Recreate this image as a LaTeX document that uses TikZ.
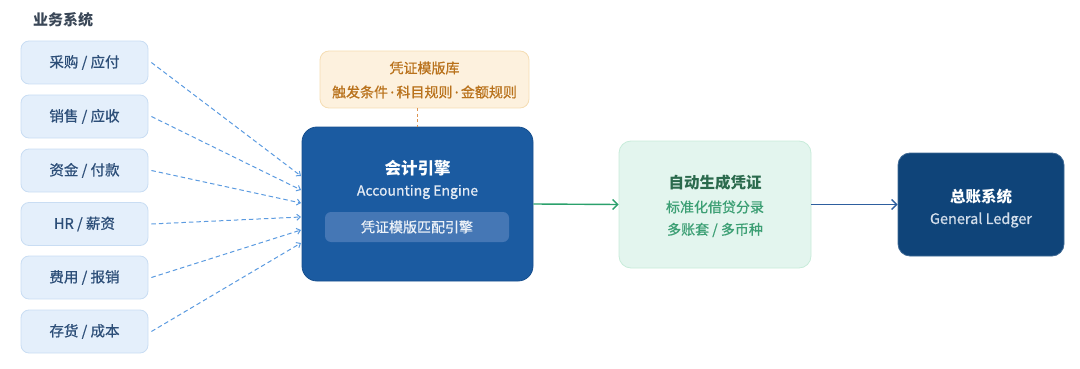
\documentclass[tikz,border=0pt]{standalone}
\usepackage{fontspec}
\setmainfont{Noto Sans CJK SC}
\newfontfamily\med{Noto Sans CJK SC}[FakeBold=0.7]
\newfontfamily\latdot{Noto Sans}[FakeBold=0.7]
\usetikzlibrary{arrows.meta,calc}
\definecolor{srcfill}{HTML}{E4EFFB}
\definecolor{srcdraw}{HTML}{C9DDF3}
\definecolor{srctext}{HTML}{2C4E78}
\definecolor{dashc}{HTML}{5C9BE0}
\definecolor{engfill}{HTML}{1B5BA1}
\definecolor{enginner}{HTML}{4577B5}
\definecolor{engdraw}{HTML}{174F8E}
\definecolor{tplfill}{HTML}{FDF1DE}
\definecolor{tpldraw}{HTML}{F5DDB3}
\definecolor{tpltext}{HTML}{B9721C}
\definecolor{tpldot}{HTML}{DD9450}
\definecolor{genfill}{HTML}{E3F5EE}
\definecolor{gendraw}{HTML}{C8ECDA}
\definecolor{gentitle}{HTML}{2B6A4D}
\definecolor{gentext}{HTML}{3C9F74}
\definecolor{greenarr}{HTML}{2BA16C}
\definecolor{glfill}{HTML}{0F4479}
\definecolor{gltext}{HTML}{D3DEEB}
\definecolor{bluearr}{HTML}{2E5F9F}
\definecolor{titlec}{HTML}{3A4757}
\newcommand{\fs}[1]{\fontsize{#1}{#1}\selectfont}
\newcommand{\mdot}{{\latdot\,·\,}}
\begin{document}
\begin{tikzpicture}[x=1pt,y=-1pt,
  srcbox/.style={draw=srcdraw, line width=0.8pt, fill=srcfill, rounded corners=8pt,
    minimum width=127pt, minimum height=43pt, inner sep=0pt, text=srctext, font=\fs{14.5}\med},
  dasharrow/.style={draw=dashc, line width=1pt, dash pattern=on 4.5pt off 3pt,
    -{Straight Barb[length=3.5pt,width=6pt]}},
  solidarrow/.style={line width=1.4pt, -{Straight Barb[length=5pt,width=10pt]}},
  txt/.style={inner sep=0pt, anchor=center}
]
\useasboundingbox (0,0) rectangle (1080,369);

% title
\node[txt, anchor=west, text=titlec, font=\fs{15}\bfseries] (title) at (33,20) {业务系统};

% source boxes
\node[srcbox] (s1) at (84.5,62.5) {采购 / 应付};
\node[srcbox] (s2) at (84.5,116.5) {销售 / 应收};
\node[srcbox] (s3) at (84.5,170.5) {资金 / 付款};
\node[srcbox] (s4) at (84.5,224) {HR / 薪资};
\node[srcbox] (s5) at (84.5,277.5) {费用 / 报销};
\node[srcbox] (s6) at (84.5,331.5) {存货 / 成本};

% template library
\node[draw=tpldraw, line width=0.8pt, fill=tplfill, rounded corners=9pt,
  minimum width=209pt, minimum height=57pt, inner sep=0pt] (tpl) at (424.5,79.5) {};
\node[txt, text=tpltext, font=\fs{14}\med] (tplt) at (424.5,68) {凭证模版库};
\node[txt, text=tpltext, font=\fs{14}\med] (tpls) at (424.5,92) {触发条件\mdot 科目规则\mdot 金额规则};

% accounting engine
\node[draw=engdraw, line width=0.8pt, fill=engfill, rounded corners=15pt,
  minimum width=231pt, minimum height=154pt, inner sep=0pt] (eng) at (417.5,204) {};
\node[txt, text=white, font=\fs{16.5}\bfseries] (engt) at (417.5,168) {会计引擎};
\node[txt, text=white!88!engfill, font=\fs{14}\med] (engs) at (417.5,192) {Accounting Engine};
\node[fill=enginner, rounded corners=6pt, minimum width=184pt, minimum height=30pt,
  inner sep=0pt, text=white!92!engfill, font=\fs{14}\med] (engi) at (417,227) {凭证模版匹配引擎};

% dotted link template -> engine
\draw[draw=tpldot, line width=1.6pt, dash pattern=on 3pt off 2.5pt] (eng.north |- tpl.south) -- (eng.north);

% generated voucher
\node[draw=gendraw, line width=0.8pt, fill=genfill, rounded corners=12pt,
  minimum width=192pt, minimum height=127pt, inner sep=0pt] (gen) at (715,204.5) {};
\node[txt, text=gentitle, font=\fs{15.5}\bfseries] (gent) at (715,183) {自动生成凭证};
\node[txt, text=gentext, font=\fs{14}\med] (gens1) at (715,207) {标准化借贷分录};
\node[txt, text=gentext, font=\fs{14}\med] (gens2) at (715,230) {多账套 / 多币种};

% general ledger
\node[draw=glfill!80!white, line width=0.8pt, fill=glfill, rounded corners=12pt,
  minimum width=166pt, minimum height=103pt, inner sep=0pt] (gl) at (981,204.5) {};
\node[txt, text=white, font=\fs{15.5}\bfseries] (glt) at (981,197) {总账系统};
\node[txt, text=gltext, font=\fs{14.5}\med] (gls) at (981,220) {General Ledger};

% dashed inputs
\coordinate (e1) at (301,176);
\coordinate (e2) at (301,190);
\coordinate (e3) at (301,203);
\coordinate (e4) at (301,217);
\coordinate (e5) at (301,230);
\coordinate (e6) at (301,243);
\draw[dasharrow] ($(s1.east)+(3,0)$) -- (e1);
\draw[dasharrow] ($(s2.east)+(3,0)$) -- (e2);
\draw[dasharrow] ($(s3.east)+(3,0)$) -- (e3);
\draw[dasharrow] ($(s4.east)+(3,0)$) -- (e4);
\draw[dasharrow] ($(s5.east)+(3,0)$) -- (e5);
\draw[dasharrow] ($(s6.east)+(3,0)$) -- (e6);

% solid arrows
\draw[solidarrow, draw=greenarr] (eng.east) -- (gen.west);
\draw[solidarrow, draw=bluearr] (gen.east) -- (gl.west);
\end{tikzpicture}
\end{document}
